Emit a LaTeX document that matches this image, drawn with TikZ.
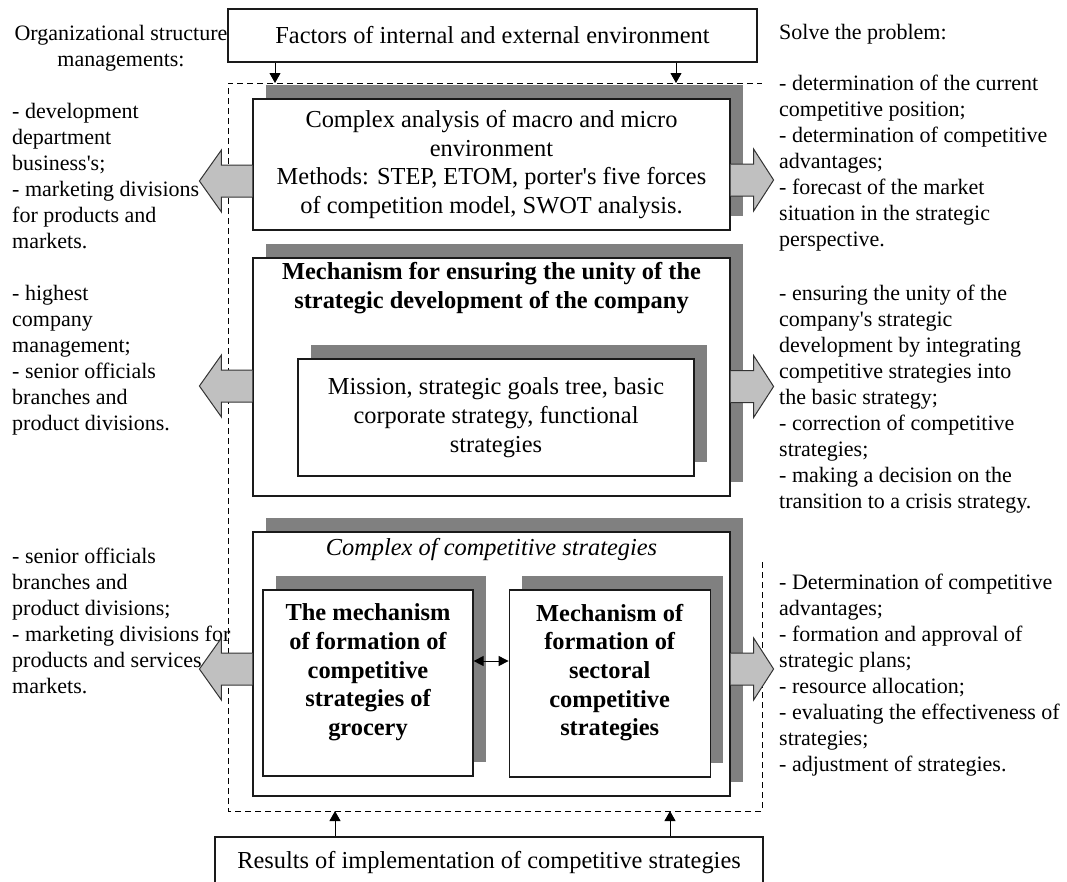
\documentclass[tikz,border=0pt]{standalone}
\usepackage{fontspec}
\setmainfont{Liberation Serif}
\usetikzlibrary{arrows.meta, calc, shadows}
\definecolor{shadowgray}{HTML}{808080}
\definecolor{arrowgray}{HTML}{C0C0C0}
\definecolor{lineblack}{HTML}{1A1A1A}
\newcommand{\sidefont}{\fontsize{22}{26}\selectfont}
\newcommand{\boxfont}{\fontsize{24.4}{28.7}\selectfont}
\newcommand{\ap}{\textquotesingle}

\tikzset{
  panel/.style={draw=lineblack, line width=1.2pt, fill=white, inner sep=0pt, align=center, font=\boxfont},
  shadowed/.style={drop shadow={shadow xshift=13pt, shadow yshift=14pt, opacity=1, fill=shadowgray}},
  boxtext/.style={align=center, font=\boxfont, inner sep=0pt},
  sidetext/.style={align=left, font=\sidefont, inner sep=0pt, anchor=base west},
  frame/.style={dash pattern=on 6pt off 4pt, line width=1pt},
  tip/.style={-{Triangle[length=10pt,width=11pt]}, line width=1pt},
  duo/.style={{Triangle[length=10pt,width=10pt]}-{Triangle[length=10pt,width=10pt]}, line width=1pt},
  blockarrow/.style={draw=black!80, fill=arrowgray, line width=1pt},
  pics/leftblock/.style={code={
    \draw[blockarrow] (0,-16) -- (-31,-16) -- (-31,-31) -- (-53,0) -- (-31,31) -- (-31,16) -- (0,16);
  }},
  pics/rightblock/.style={code={
    \draw[blockarrow] (0,-16) -- (23,-16) -- (23,-31) -- (43,0) -- (23,31) -- (23,16) -- (0,16);
  }},
}

\begin{document}
\begin{tikzpicture}[x=1pt, y=-1pt]
  \useasboundingbox (0,0) rectangle (1067,881);

  % Dashed frame round the mechanism
  \coordinate (fnw) at (228,83);
  \coordinate (fse) at (762,811);
  \coordinate (fcut) at (762,562);
  \draw[frame] (fcut) -- (fse) -- (fse -| fnw) -- (fnw) -- (fnw -| fse);

  % Left column: organizational structure (anchored at the last baseline)
  \node[anchor=base, align=center, font=\sidefont, inner sep=0pt] (orgtitle) at (121,66) {Organizational structure\\managements:};
  \node[sidetext] (orgtop) at (12,248) {- development\\department\\business\ap s;\\- marketing divisions\\for products and\\markets.};
  \node[sidetext] (orgmid) at (12,430) {- highest\\company\\management;\\- senior officials\\branches and\\product divisions.};
  \node[sidetext] (orglow) at (12,693.5) {- senior officials\\branches and\\product divisions;\\- marketing divisions for\\products and services\\markets.};

  % Right column: tasks
  \node[anchor=base west, font=\sidefont, inner sep=0pt] (tasktitle) at (779,39) {Solve the problem:};
  \node[sidetext] (tasktop) at (779,246.5) {- determination of the current\\competitive position;\\- determination of competitive\\advantages;\\- forecast of the market\\situation in the strategic\\perspective.};
  \node[sidetext] (taskmid) at (779,508.5) {- ensuring the unity of the\\company\ap s strategic\\development by integrating\\competitive strategies into\\the basic strategy;\\- correction of competitive\\strategies;\\- making a decision on the\\transition to a crisis strategy.};
  \node[sidetext] (tasklow) at (779,771.5) {- Determination of competitive\\advantages;\\- formation and approval of\\strategic plans;\\- resource allocation;\\- evaluating the effectiveness of\\strategies;\\- adjustment of strategies.};

  % Boxes
  \node[panel, minimum width=529pt, minimum height=53pt] (factors) at (492.5,35.5) {Factors of internal and external environment};
  \node[panel, shadowed, minimum width=477pt, minimum height=131pt] (analysis) at (491.5,164.5) {Complex analysis of macro and micro\\environment\\Methods: STEP, ETOM, porter\ap s five forces\\of competition model, SWOT analysis.};
  \node[panel, shadowed, minimum width=477pt, minimum height=238pt] (unity) at (491.5,377) {};
  \node[boxtext, font=\boxfont\bfseries] (unitytitle) at (491.5,288) {Mechanism for ensuring the unity of the\\strategic development of the company};
  \node[panel, shadowed, minimum width=396pt, minimum height=117pt] (mission) at (496,417.5) {Mission, strategic goals tree, basic\\corporate strategy, functional\\strategies};
  \node[panel, shadowed, minimum width=477pt, minimum height=264pt] (complex) at (491.5,664) {};
  \node[boxtext, font=\boxfont\itshape] (complextitle) at (491.5,549) {Complex of competitive strategies};
  \node[panel, shadowed, minimum width=210pt, minimum height=186pt] (grocery) at (368,683) {};
  \node[boxtext, font=\boxfont\bfseries] (grocerytext) at (368,672.5) {The mechanism\\of formation of\\competitive\\strategies of\\grocery};
  \node[panel, shadowed, minimum width=201pt, minimum height=187pt] (sectoral) at (609.7,683.5) {};
  \node[boxtext, font=\boxfont\bfseries] (sectoraltext) at (609.7,672.5) {Mechanism of\\formation of\\sectoral\\competitive\\strategies};
  \node[panel, minimum width=548pt, minimum height=52pt] (results) at (489,863) {Results of implementation of competitive strategies};

  % Arrows in and out of the frame
  \coordinate (inA) at ([xshift=-217.5pt]factors.south);
  \coordinate (inB) at ([xshift=183.5pt]factors.south);
  \draw[tip] (inA) -- (inA |- fnw);
  \draw[tip] (inB) -- (inB |- fnw);
  \coordinate (backA) at ([xshift=-154pt]results.north);
  \coordinate (backB) at ([xshift=181pt]results.north);
  \draw[tip] (backA) -- (backA |- fse);
  \draw[tip] (backB) -- (backB |- fse);
  \coordinate (linkA) at ($(grocery.east)+(0,-22)$);
  \draw[duo] (linkA) -- (linkA -| sectoral.west);

  % Block arrows to the columns
  \pic at ($(analysis.west)+(0,16.5)$) {leftblock};
  \pic at ($(unity.west)+(0,9)$) {leftblock};
  \pic at ($(complex.west)+(0,5)$) {leftblock};
  \pic at ($(analysis.east)+(0,15.5)$) {rightblock};
  \pic at ($(unity.east)+(0,9.5)$) {rightblock};
  \pic at ($(complex.east)+(0,5)$) {rightblock};
\end{tikzpicture}
\end{document}
